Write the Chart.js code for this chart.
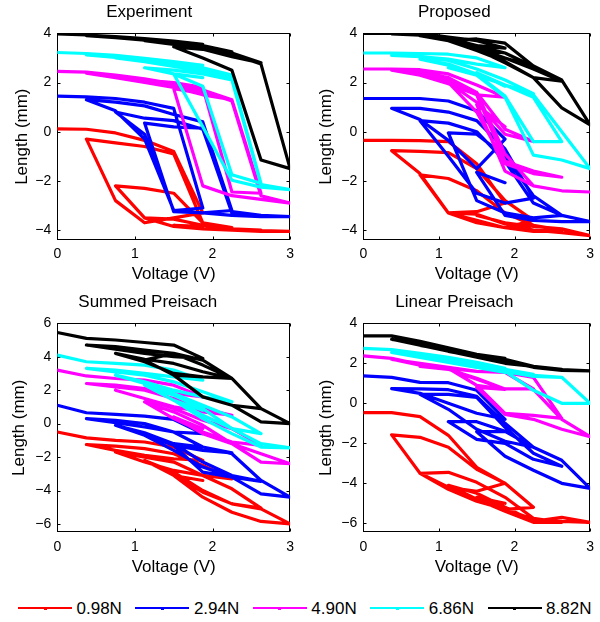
<!DOCTYPE html>
<html>
<head>
<meta charset="utf-8">
<script src="https://cdn.jsdelivr.net/npm/chart.js@4.4.1/dist/chart.umd.min.js"></script>
<style>
html,body{margin:0;padding:0;background:#fff;}
#wrap{position:relative;width:600px;height:622px;overflow:hidden;font-family:"Liberation Sans",Arial,Helvetica,sans-serif;background:#fff;}
.panel{position:absolute;width:300px;height:290px;}
.panel canvas{display:block;}
.lg-line{position:absolute;height:2px;}
.lg-dot{position:absolute;width:3px;height:3px;}
.lg-text{position:absolute;font-size:17px;line-height:20px;color:#000;white-space:nowrap;}
</style>
</head>
<body>
<div id="wrap">
  <div class="panel" style="left:0;top:0"><canvas id="c0" width="300" height="290"></canvas></div>
  <div class="panel" style="left:300px;top:0"><canvas id="c1" width="300" height="290"></canvas></div>
  <div class="panel" style="left:0;top:290px"><canvas id="c2" width="300" height="290"></canvas></div>
  <div class="panel" style="left:300px;top:290px"><canvas id="c3" width="300" height="290"></canvas></div>
  <div id="legend"></div>
</div>
<script>
// ---------- data ----------
const voltage = [0,0.375,0.75,1.125,1.5,1.875, 1.5,1.125,0.75,0.375, 0.75,1.125,1.5,1.875,2.25, 1.875,1.5,1.125,0.75, 1.125,1.5,1.875,2.25,2.625, 2.25,1.875,1.5,1.125, 1.5,1.875,2.25,2.625,3, 2.625,2.25,1.875,1.5, 1.875];

const loads = ['0.98N','2.94N','4.90N','6.86N','8.82N'];
const panelTitles = ['Experiment','Proposed','Summed Preisach','Linear Preisach'];
const xTicks = [0,1,2,3];
const yTicksTop = [-4,-2,0,2,4];
const yTicksSP = [-6,-4,-2,0,2,4,6];
const yTicksLP = [-6,-4,-2,0,2,4];

// Experiment
const expRed   = [0.12,0.1,-0.05,-0.35,-0.8,-3.3, -3.5,-3.7,-2.8,-0.3, -0.45,-0.6,-0.9,-3.7,-3.9, -3.95,-3.85,-3.5,-2.2, -2.3,-2.5,-3.7,-3.95,-4.0, -4.0,-3.95,-3.85,-3.5, -3.55,-3.8,-3.95,-4.02,-4.05, -4.05,-4.0,-3.95,-3.8, -3.85];
const expBlue  = [1.45,1.42,1.35,1.2,0.95,-3.1, -3.2,-0.3,0.85,1.3, 1.2,1.05,0.7,0.4,-3.2, -3.3,-3.2,-0.1,0.8, 0.55,0.45,0.1,-3.3,-3.4, -3.4,-3.3,-3.25,0.35, 0.2,0.15,-3.25,-3.4,-3.45, -3.45,-3.4,-3.3,-3.2, -3.3];
const expMag   = [2.45,2.42,2.3,2.15,1.95,1.75, 1.8,2.0,2.2,2.38, 2.3,2.15,1.95,1.7,1.3, 1.5,1.8,2.05,2.25, 2.1,1.9,1.65,1.3,-2.5, -2.45,1.8,2.0,2.1, 1.9,1.65,1.25,-2.6,-2.9, -2.75,-2.6,-2.2,1.75, 1.55];
const expCyan  = [3.22,3.18,3.1,2.98,2.85,2.7, 2.75,2.9,3.02,3.12, 3.05,2.95,2.8,2.6,2.3, 2.45,2.65,2.85,3.0, 2.85,2.7,2.5,2.2,-2.1, -1.75,1.85,2.35,2.6, 2.5,2.35,2.1,-2.15,-2.35, -2.25,-1.97,0.2,2.35, 2.2];
const expBlack = [3.98,3.93,3.87,3.78,3.68,3.55, 3.6,3.72,3.82,3.9, 3.85,3.76,3.65,3.5,3.25, 3.4,3.58,3.72,3.83, 3.74,3.62,3.45,3.2,2.8, 3.05,3.35,3.55,3.7, 3.58,3.42,3.15,2.75,-1.5, -1.15,2.5,3.0,3.45, 3.35];

// Proposed
const propRed   = [-0.35,-0.35,-0.36,-0.4,-1.3,-2.9, -3.25,-3.3,-1.7,-0.77, -0.8,-0.85,-1.5,-2.8,-3.6, -3.9,-3.7,-3.3,-1.75, -1.9,-2.4,-3.3,-3.8,-4.0, -4.05,-3.9,-3.6,-3.3, -3.35,-3.75,-4.0,-4.1,-4.22, -3.95,-3.85,-3.7,-3.4, -3.7];
const propBlue  = [1.35,1.35,1.35,1.25,0.85,-0.3, -1.5,-0.35,0.5,0.95, 0.95,0.8,0.45,-0.7,-2.7, -2.9,-2.5,-1.0,0.45, 0.35,0.0,-1.2,-2.9,-3.4, -3.5,-3.3,-2.8,-0.05, -0.1,-1.0,-2.6,-3.4,-3.65, -3.65,-3.6,-3.4,-1.65, -2.07];
const propMag   = [2.55,2.55,2.52,2.35,1.9,1.4, 1.5,1.95,2.3,2.5, 2.42,2.2,1.6,0.1,-0.4, -0.1,1.2,2.0,2.3, 2.1,1.5,-1.2,-1.6,-1.85, -1.7,-1.3,0.8,2.0, 1.6,-0.9,-2.2,-2.4,-2.45, -2.4,-2.2,-1.6,1.1, 0.2];
const propCyan  = [3.2,3.2,3.18,3.15,3.0,2.6, 2.75,2.95,3.05,3.1, 3.05,2.9,2.55,2.1,1.55, 1.9,2.3,2.7,2.95, 2.75,2.35,1.45,-0.4,-0.4, 1.4,1.9,2.3,2.6, 2.3,1.4,-0.95,-1.15,-1.5, 0.0,1.5,1.9,2.4, 1.85];
const propBlack = [4.0,4.0,4.0,3.85,3.7,3.4, 3.5,3.75,3.92,3.98, 3.95,3.8,3.5,3.2,2.65, 3.0,3.35,3.7,3.9, 3.75,3.4,3.0,2.55,2.05, 2.2,2.85,3.3,3.7, 3.77,3.6,2.67,2.1,0.28, 0.97,2.2,2.8,3.35, 3.2];

// Summed Preisach
const spRed   = [-0.5,-0.85,-1.0,-1.1,-1.4,-2.2, -2.1,-1.9,-1.6,-1.25, -1.35,-1.5,-1.8,-2.5,-3.3, -3.1,-2.8,-2.3,-1.7, -2.0,-2.3,-3.1,-3.9,-5.05, -4.8,-4.1,-3.1,-2.2, -2.9,-4.0,-4.8,-5.1,-6.0, -5.85,-5.3,-4.4,-3.1, -3.4];
const spBlue  = [1.1,0.65,0.55,0.45,0.25,-0.6, -0.5,-0.2,0.05,0.3, 0.2,0.0,-0.5,-1.4,-1.75, -1.6,-1.3,-0.7,-0.1, -0.55,-1.2,-2.3,-3.1,-3.45, -3.2,-2.6,-1.6,-0.7, -1.3,-2.9,-3.2,-4.2,-4.4, -3.4,-1.8,-1.4,-1.2, -1.6];
const spMag   = [3.2,2.85,2.7,2.6,2.3,1.6, 1.8,2.1,2.3,2.4, 2.2,2.0,1.5,0.9,0.5, 0.7,1.0,1.5,2.0, 1.5,0.9,0.2,-0.3,-1.3, -1.1,-0.5,0.3,1.3, 0.7,-0.1,-1.2,-2.3,-2.4, -1.8,-1.2,-0.6,0.4, -0.3];
const spCyan  = [4.1,3.7,3.6,3.5,3.2,2.6, 2.8,3.0,3.2,3.3, 3.1,2.9,2.5,1.9,1.3, 1.6,2.0,2.5,2.9, 2.4,1.8,1.1,0.4,-0.6, -0.3,0.5,1.4,2.3, 1.7,0.9,-0.3,-1.2,-1.45, -1.4,-0.6,0.3,1.4, 0.8];
const spBlack = [5.45,5.1,5.0,4.85,4.7,3.9, 4.0,4.2,4.45,4.7, 4.6,4.4,4.2,3.5,2.7, 2.8,3.0,3.7,4.2, 3.85,3.6,3.1,2.7,0.9, 1.1,1.6,2.9,3.8, 4.2,3.8,2.7,0.9,0.0, 0.1,1.1,1.6,2.9, 2.8];

// Linear Preisach
const lpRed   = [-0.47,-0.47,-0.67,-1.6,-3.2,-4.0, -4.4,-4.2,-3.5,-1.58, -1.7,-2.2,-3.3,-4.0,-5.2, -5.3,-4.9,-4.3,-3.5, -3.45,-3.95,-4.7,-5.75,-5.95, -5.95,-5.4,-4.8,-4.1, -4.5,-5.2,-5.9,-5.7,-5.95, -5.9,-5.8,-5.3,-4.7, -5.0];
const lpBlue  = [1.37,1.3,1.05,1.03,0.65,-0.8, -0.5,0.0,0.5,0.73, 0.72,0.68,0.35,-1.0,-2.2, -1.9,-1.3,-0.3,0.45, 0.45,0.3,-1.2,-2.5,-3.15, -2.8,-2.0,-1.8,-0.92, -0.92,-1.4,-2.2,-2.85,-4.25, -4.0,-3.35,-2.65,-1.42, -1.42];
const lpMag   = [2.37,2.25,1.95,1.78,0.9,0.7, 1.2,1.7,1.9,2.2, 2.0,1.8,1.6,1.55,0.72, 0.72,1.25,1.7,1.85, 1.75,1.6,1.55,1.3,-0.75, -0.6,-0.5,0.9,1.75, 1.6,1.55,0.7,-0.8,-1.67, -1.3,-0.8,-0.55,0.8, 0.7];
const lpCyan  = [2.75,2.68,2.5,2.3,2.05,1.75, 1.85,2.05,2.3,2.55, 2.4,2.2,2.0,1.7,1.45, 1.55,1.8,2.05,2.3, 2.15,1.95,1.7,1.4,1.3, 1.35,1.6,1.85,2.1, 1.9,1.65,1.4,1.3,0.0, 0.0,0.65,1.6,1.85, 1.65];
const lpBlack = [3.37,3.37,3.1,2.78,2.45,2.25, 2.35,2.6,2.9,3.2, 3.0,2.7,2.4,2.2,1.85, 2.0,2.3,2.6,2.9, 2.65,2.35,2.15,1.85,1.7, 1.8,2.1,2.35,2.65, 2.4,2.15,1.85,1.68,1.62, 1.65,1.8,2.1,2.35, 2.2];

// ---------- styling ----------
const FONT = '"Liberation Sans", Arial, Helvetica, sans-serif';
const colors = ['#ff0000','#0000ff','#ff00ff','#00ffff','#000000'];
const fmt = v => String(v).replace('-', '\u2212');

const boxPlugin = {
  id: 'matlabBox',
  beforeDatasetsDraw(chart) {
    const {ctx, chartArea: a, scales: {x, y}} = chart;
    const L = Math.round(a.left) + 0.5, R = Math.round(a.right) - 0.5;
    const T = Math.round(a.top) + 0.5, B = Math.round(a.bottom) - 0.5;
    ctx.save();
    ctx.strokeStyle = '#000';
    ctx.lineWidth = 1;
    ctx.strokeRect(L, T, R - L, B - T);
    const tl = 3;
    ctx.beginPath();
    x.ticks.forEach(t => {
      const px = Math.round(x.getPixelForValue(t.value)) + 0.5;
      ctx.moveTo(px, B); ctx.lineTo(px, B - tl);
      ctx.moveTo(px, T); ctx.lineTo(px, T + tl);
    });
    y.ticks.forEach(t => {
      const py = Math.round(y.getPixelForValue(t.value)) + 0.5;
      ctx.moveTo(L, py); ctx.lineTo(L + tl, py);
      ctx.moveTo(R, py); ctx.lineTo(R - tl, py);
    });
    ctx.stroke();
    ctx.restore();
  }
};

function makeChart(id, title, series, yMin, yMax, yTicks, p) {
  const datasets = series.map((ys, i) => ({
    label: loads[i],
    data: ys.map((v, k) => ({x: voltage[k], y: v})),
    borderColor: colors[i],
    backgroundColor: colors[i],
    borderWidth: 3.2,
    pointRadius: 0,
    showLine: true,
    fill: false,
    tension: 0,
    borderJoinStyle: 'round',
    borderCapStyle: 'round',
    order: 5 - i
  }));
  return new Chart(document.getElementById(id), {
    type: 'scatter',
    data: {datasets},
    options: {
      responsive: false,
      animation: false,
      devicePixelRatio: 1,
      events: [],
      layout: {autoPadding: false, padding: {left: p.left, right: p.right, top: 0, bottom: 0}},
      plugins: {
        legend: {display: false},
        tooltip: {enabled: false},
        title: {display: true, text: title, color: '#000',
                font: {family: FONT, size: 17, weight: 'normal'},
                padding: {top: 2, bottom: 10.9}}
      },
      scales: {
        x: {
          type: 'linear', min: 0, max: 3,
          grid: {display: false, drawTicks: false},
          border: {display: false},
          ticks: {color: '#000', font: {family: FONT, size: 14}, padding: 6,
                  autoSkip: false, maxRotation: 0, callback: v => fmt(v)},
          afterBuildTicks: s => { s.ticks = xTicks.map(v => ({value: v})); },
          afterFit: s => { s.height = p.xh; },
          title: {display: true, text: 'Voltage (V)', color: '#000',
                  font: {family: FONT, size: 17}, padding: {top: 0, bottom: p.xtb}}
        },
        y: {
          type: 'linear', min: yMin, max: yMax,
          grid: {display: false, drawTicks: false},
          border: {display: false},
          ticks: {color: '#000', font: {family: FONT, size: 14}, padding: 6,
                  autoSkip: false, callback: v => fmt(v)},
          afterBuildTicks: s => { s.ticks = yTicks.map(v => ({value: v})); },
          afterFit: s => { s.width = p.yw; },
          title: {display: true, text: 'Length (mm)', color: '#000',
                  font: {family: FONT, size: 17}, padding: {top: 4, bottom: 0}}
        }
      }
    },
    plugins: [boxPlugin]
  });
}

makeChart('c0', panelTitles[0], [expRed, expBlue, expMag, expCyan, expBlack], -4.4, 4, yTicksTop,
  {left: 8, right: 9.5, yw: 49.3, xh: 50, xtb: 5.1});
makeChart('c1', panelTitles[1], [propRed, propBlue, propMag, propCyan, propBlack], -4.4, 4, yTicksTop,
  {left: 12, right: 3.3, yw: 51.3, xh: 50, xtb: 5.1});
makeChart('c2', panelTitles[2], [spRed, spBlue, spMag, spCyan, spBlack], -6.5, 6, yTicksSP,
  {left: 5, right: 9.5, yw: 52.3, xh: 47.7, xtb: 2});
makeChart('c3', panelTitles[3], [lpRed, lpBlue, lpMag, lpCyan, lpBlack], -6.45, 4, yTicksLP,
  {left: 12, right: 3.3, yw: 51.3, xh: 47.7, xtb: 2});

// ---------- legend ----------
const lg = document.getElementById('legend');
loads.forEach((name, i) => {
  const x0 = 18 + i * 117.4;
  const line = document.createElement('div');
  line.className = 'lg-line';
  line.style.cssText = `left:${x0}px;top:607px;width:54px;background:${colors[i]};`;
  const dot = document.createElement('div');
  dot.className = 'lg-dot';
  dot.style.cssText = `left:${x0 + 25.5}px;top:606.5px;background:${colors[i]};`;
  const txt = document.createElement('div');
  txt.className = 'lg-text';
  txt.style.cssText = `left:${x0 + 58.5}px;top:599px;`;
  txt.textContent = name;
  lg.appendChild(line); lg.appendChild(dot); lg.appendChild(txt);
});
</script>
</body>
</html>
